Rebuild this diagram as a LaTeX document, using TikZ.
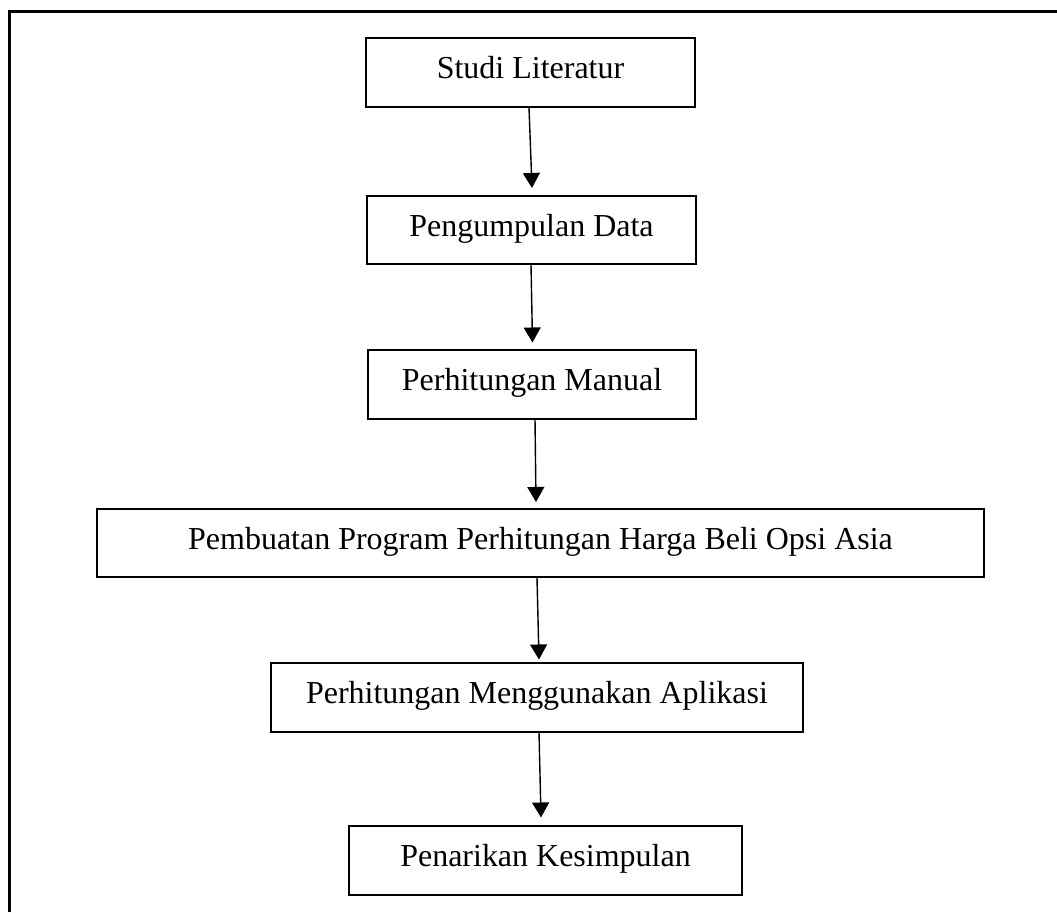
\documentclass[tikz,border=0pt]{standalone}
\usepackage{fontspec}
\setmainfont{Liberation Serif}
\usetikzlibrary{arrows.meta}

\begin{document}
\begin{tikzpicture}[>={Triangle[width=0.34cm,length=0.3cm]},
  block/.style={rectangle, draw=black, line width=0.9pt, inner sep=0pt, align=center,
    font=\fontsize{18.2}{22}\selectfont, text height=13pt, text depth=6.1pt, minimum height=1.37cm},
  arr/.style={->, line width=0.8pt}]
\useasboundingbox (0,0) rectangle (21.14,-18.24);
% frame
\draw [line width=1.7pt] (0.19,-18.24) -- (0.19,-0.234) -- (21.14,-0.234);
% steps
\draw (10.61,-1.45) node[block, minimum width=6.58cm] (lit) {Studi Literatur};
\draw (10.63,-4.60) node[block, minimum width=6.58cm] (data) {Pengumpulan Data};
\draw (10.64,-7.69) node[block, minimum width=6.56cm] (manual) {Perhitungan Manual};
\draw (10.81,-10.86) node[block, minimum width=17.74cm] (prog) {Pembuatan Program Perhitungan Harga Beli Opsi Asia};
\draw (10.74,-13.95) node[block, minimum width=10.64cm] (apl) {Perhitungan Menggunakan Aplikasi};
\draw (10.91,-17.21) node[block, minimum width=7.86cm] (simp) {Penarikan Kesimpulan};
% arrows
\draw [arr] ([xshift=-0.03cm]lit.south) -- ([xshift=0.01cm,yshift=0.14cm]data.north);
\draw [arr] ([xshift=-0.01cm]data.south) -- ([xshift=0.01cm,yshift=0.14cm]manual.north);
\draw [arr] ([xshift=0.06cm]manual.south) -- ([xshift=-0.09cm,yshift=0.12cm]prog.north);
\draw [arr] ([xshift=-0.07cm]prog.south) -- ([xshift=0.04cm,yshift=0.06cm]apl.north);
\draw [arr] ([xshift=0.04cm]apl.south) -- ([xshift=-0.09cm,yshift=0.16cm]simp.north);
\end{tikzpicture}
\end{document}
